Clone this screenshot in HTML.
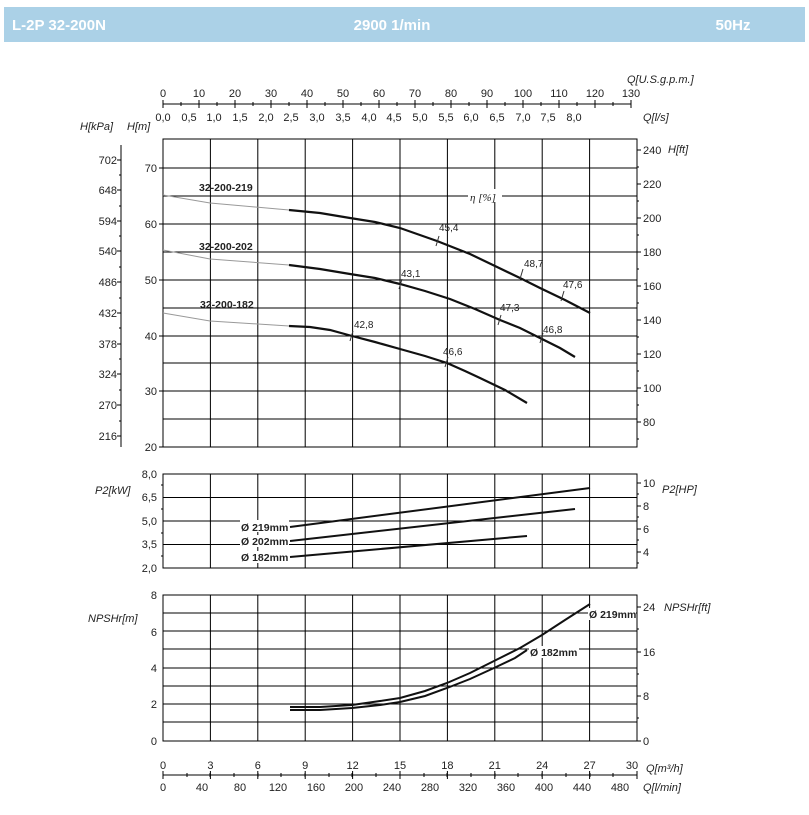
<!DOCTYPE html>
<html><head><meta charset="utf-8"><style>
body{margin:0;background:#fff;width:809px;height:810px;overflow:hidden}
svg{font-family:"Liberation Sans",Arial,sans-serif}
</style></head><body>
<svg width="809" height="810" viewBox="0 0 809 810" xmlns="http://www.w3.org/2000/svg">
<rect x="4" y="7" width="801" height="35" fill="#abd1e7"/>
<g fill="#fff" font-weight="bold" font-size="15">
<text x="12" y="30">L-2P 32-200N</text>
<text x="392" y="30" text-anchor="middle">2900 1/min</text>
<text x="733" y="30" text-anchor="middle">50Hz</text>
</g>
<g stroke="#000" stroke-width="1" fill="none">
<rect x="163" y="139" width="474" height="308"/>
<rect x="163" y="474" width="474" height="94"/>
<rect x="163" y="595" width="474" height="146"/>
<path d="M210.4 139V447M257.8 139V447M305.2 139V447M352.6 139V447M400 139V447M447.4 139V447M494.8 139V447M542.2 139V447M589.6 139V447
M210.4 474V568M257.8 474V568M305.2 474V568M352.6 474V568M400 474V568M447.4 474V568M494.8 474V568M542.2 474V568M589.6 474V568
M210.4 595V741M257.8 595V741M305.2 595V741M352.6 595V741M400 595V741M447.4 595V741M494.8 595V741M542.2 595V741M589.6 595V741"/>
<path d="M163 168H637M163 196H637M163 224H637M163 252H637M163 280H637M163 308H637M163 336H637M163 363H637M163 391H637M163 419H637
M163 497.5H637M163 521H637M163 544.5H637
M163 613H637M163 631H637M163 649H637M163 668H637M163 686H637M163 704H637M163 722H637"/>
<path d="M121 145V447"/>
<path d="M117 160h4M117 190h4M117 221h4M117 251h4M117 282h4M117 313h4M117 344h4M117 374h4M117 405h4M117 436h4"/>
<path d="M119 175h2M119 206h2M119 236h2M119 267h2M119 298h2M119 328h2M119 359h2M119 390h2M119 421h2"/>
<path d="M159 168h4M159 224h4M159 280h4M159 336h4M159 391h4M159 447h4M161 485h2M161 509h2M161 533h2M161 556h2"/>
<path d="M637 150h4M637 184h4M637 218h4M637 252h4M637 286h4M637 320h4M637 354h4M637 388h4M637 422h4"/>
<path d="M637 167h2M637 201h2M637 235h2M637 269h2M637 303h2M637 337h2M637 371h2M637 405h2M637 439h2"/>
<path d="M637 483h4M637 506h4M637 529h4M637 552h4M637 494h2M637 517h2M637 540h2M637 563h2"/>
<path d="M637 607h4M637 652h4M637 696h4M637 741h4M637 629h2M637 674h2M637 718h2"/>
<path d="M163 104H631"/>
<path d="M163 775H637"/>
</g>
<g stroke="#000" stroke-width="1">
<path d="M163 100v8M199 100v8M235 100v8M271 100v8M307 100v8M343 100v8M379 100v8M415 100v8M451 100v8M487 100v8M523 100v8M559 100v8M595 100v8M631 100v8"/>
<path d="M181 102v4M217 102v4M253 102v4M289 102v4M325 102v4M361 102v4M397 102v4M433 102v4M469 102v4M505 102v4M541 102v4M577 102v4M613 102v4"/>
<path d="M163 771v8M210.4 771v8M257.8 771v8M305.2 771v8M352.6 771v8M400 771v8M447.4 771v8M494.8 771v8M542.2 771v8M589.6 771v8M637 771v8"/>
<path d="M187 773v4M210 773v4M234 773v4M258 773v4M281 773v4M305 773v4M329 773v4M352 773v4M376 773v4M400 773v4M424 773v4M447 773v4M471 773v4M495 773v4M518 773v4M542 773v4M566 773v4M590 773v4M613 773v4"/>
</g>
<g font-size="11" fill="#222">
<g text-anchor="middle">
<text x="163" y="97">0</text><text x="199" y="97">10</text><text x="235" y="97">20</text><text x="271" y="97">30</text><text x="307" y="97">40</text><text x="343" y="97">50</text><text x="379" y="97">60</text><text x="415" y="97">70</text><text x="451" y="97">80</text><text x="487" y="97">90</text><text x="523" y="97">100</text><text x="559" y="97">110</text><text x="595" y="97">120</text><text x="631" y="97">130</text>
<text x="163" y="121">0,0</text><text x="189" y="121">0,5</text><text x="214" y="121">1,0</text><text x="240" y="121">1,5</text><text x="266" y="121">2,0</text><text x="291" y="121">2,5</text><text x="317" y="121">3,0</text><text x="343" y="121">3,5</text><text x="369" y="121">4,0</text><text x="394" y="121">4,5</text><text x="420" y="121">5,0</text><text x="446" y="121">5,5</text><text x="471" y="121">6,0</text><text x="497" y="121">6,5</text><text x="523" y="121">7,0</text><text x="548" y="121">7,5</text><text x="574" y="121">8,0</text>
<text x="163" y="769">0</text><text x="210.4" y="769">3</text><text x="257.8" y="769">6</text><text x="305.2" y="769">9</text><text x="352.6" y="769">12</text><text x="400" y="769">15</text><text x="447.4" y="769">18</text><text x="494.8" y="769">21</text><text x="542.2" y="769">24</text><text x="589.6" y="769">27</text><text x="632" y="769">30</text>
<text x="163" y="791">0</text><text x="202" y="791">40</text><text x="240" y="791">80</text><text x="278" y="791">120</text><text x="316" y="791">160</text><text x="354" y="791">200</text><text x="392" y="791">240</text><text x="430" y="791">280</text><text x="468" y="791">320</text><text x="506" y="791">360</text><text x="544" y="791">400</text><text x="582" y="791">440</text><text x="620" y="791">480</text>
</g>
<g text-anchor="end">
<text x="117" y="164">702</text><text x="117" y="194">648</text><text x="117" y="225">594</text><text x="117" y="255">540</text><text x="117" y="286">486</text><text x="117" y="317">432</text><text x="117" y="348">378</text><text x="117" y="378">324</text><text x="117" y="409">270</text><text x="117" y="440">216</text>
<text x="157" y="172">70</text><text x="157" y="228">60</text><text x="157" y="284">50</text><text x="157" y="340">40</text><text x="157" y="395">30</text><text x="157" y="451">20</text>
<text x="157" y="478">8,0</text><text x="157" y="501">6,5</text><text x="157" y="525">5,0</text><text x="157" y="548">3,5</text><text x="157" y="572">2,0</text>
<text x="157" y="599">8</text><text x="157" y="636">6</text><text x="157" y="672">4</text><text x="157" y="708">2</text><text x="157" y="745">0</text>
</g>
<text x="643" y="154">240</text><text x="643" y="188">220</text><text x="643" y="222">200</text><text x="643" y="256">180</text><text x="643" y="290">160</text><text x="643" y="324">140</text><text x="643" y="358">120</text><text x="643" y="392">100</text><text x="643" y="426">80</text>
<text x="643" y="487">10</text><text x="643" y="510">8</text><text x="643" y="533">6</text><text x="643" y="556">4</text>
<text x="643" y="611">24</text><text x="643" y="656">16</text><text x="643" y="700">8</text><text x="643" y="745">0</text>
<g font-style="italic">
<text x="80" y="130">H[kPa]</text><text x="127" y="130">H[m]</text>
<text x="627" y="83">Q[U.S.g.p.m.]</text><text x="643" y="121">Q[l/s]</text>
<text x="668" y="153">H[ft]</text>
<text x="95" y="494">P2[kW]</text><text x="662" y="493">P2[HP]</text>
<text x="88" y="622">NPSHr[m]</text><text x="664" y="611">NPSHr[ft]</text>
<text x="646" y="772">Q[m³/h]</text><text x="643" y="791">Q[l/min]</text>
</g>
</g>
<rect x="468" y="189" width="34" height="13" fill="#fff"/>
<text x="470" y="201" font-size="11" font-style="italic" fill="#222" font-family="Liberation Serif, serif">η [%]</text>
<g fill="none" stroke="#999" stroke-width="1">
<polyline points="163,195 210,203 289,210"/>
<polyline points="163,250 210,259 289,265"/>
<polyline points="163,313 210,321 289,326"/>
</g>
<g fill="none" stroke="#111" stroke-width="2.2">
<polyline points="289,210 320,213 350,218 375,222 400,228 437,241 470,254 495,266 520,278 540,288 565,300 590,313"/>
<polyline points="289,265 320,269 350,274 375,278 400,284 425,291 450,299 475,309 500,320 520,328 540,338 560,348 575,357"/>
<polyline points="289,326 310,327 330,330 352,336 375,342 400,349 425,356 447,363 465,371 480,378 505,390 527,403"/>
</g>
<g stroke="#333" stroke-width="1">
<path d="M436 246l3-10M520 279l3-10M561 301l3-10M399 289l3-10M498 325l3-10M540 343l3-10M350 341l3-10M445 367l3-10"/>
</g>
<g font-size="10" fill="#222">
<text x="439" y="231">45,4</text><text x="524" y="267">48,7</text><text x="563" y="288">47,6</text>
<text x="401" y="277">43,1</text><text x="500" y="311">47,3</text><text x="543" y="333">46,8</text>
<text x="354" y="328">42,8</text><text x="443" y="355">46,6</text>
</g>
<g font-size="10.5" font-weight="bold" fill="#222">
<text x="199" y="191">32-200-219</text><text x="199" y="250">32-200-202</text><text x="200" y="308">32-200-182</text>
</g>
<g fill="none" stroke="#111" stroke-width="2">
<line x1="290" y1="527" x2="590" y2="488"/>
<line x1="290" y1="541" x2="575" y2="509"/>
<line x1="290" y1="557" x2="527" y2="536"/>
</g>
<g font-size="10.5" font-weight="bold" fill="#222">
<rect x="240" y="520" width="49" height="12" fill="#fff"/>
<rect x="240" y="535" width="49" height="12" fill="#fff"/>
<rect x="240" y="551" width="49" height="12" fill="#fff"/>
<text x="241" y="531">Ø 219mm</text><text x="241" y="545">Ø 202mm</text><text x="241" y="561">Ø 182mm</text>
</g>
<g fill="none" stroke="#111" stroke-width="2">
<polyline points="290,707 320,707 352,705 380,701 400,698 425,691 447,683 470,673 494,661 520,648 542,635 565,620 590,604"/>
<polyline points="290,710 320,710 352,708 380,705 400,702 425,696 447,688 470,679 494,668 515,658 527,650"/>
</g>
<g font-size="10.5" font-weight="bold" fill="#222">
<rect x="588" y="608" width="48" height="12" fill="#fff"/>
<text x="589" y="618">Ø 219mm</text>
<rect x="529" y="646" width="50" height="12" fill="#fff"/>
<text x="530" y="656">Ø 182mm</text>
</g>
</svg>
</body></html>
